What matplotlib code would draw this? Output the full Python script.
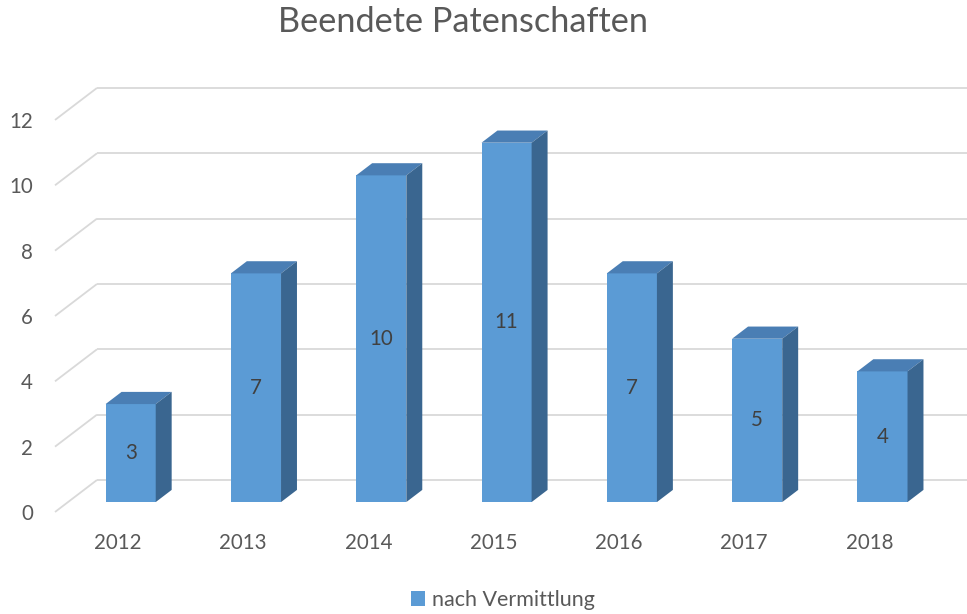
import numpy as np
import matplotlib
matplotlib.use('Agg')
import matplotlib.pyplot as plt
from matplotlib.patches import Polygon

# ---------------- DATA ----------------
years = ['2012', '2013', '2014', '2015', '2016', '2017', '2018']
values = [3, 7, 10, 11, 7, 5, 4]
y_ticks = [0, 2, 4, 6, 8, 10, 12]
series_name = 'nach Vermittlung'

# ---------------- STYLE ----------------
plt.rcParams['font.family'] = ['Lato', 'DejaVu Sans']
txt_col = '#595959'
grid_col = '#D9D9D9'
c_front = '#5B9BD5'
c_top = '#4A7EB4'
c_side = '#3A6690'

# pseudo-3D depth offsets (in data units for full depth)
ddx = 0.335
ddy = 0.98
d0, d1 = 0.31, 0.69
bw = 0.40

fig = plt.figure(figsize=(9.67, 6.14), dpi=100)
ax = fig.add_axes([55 / 967, 102 / 614, 912 / 967, 472 / 614])
ax.set_xlim(-0.5, -0.5 + 912 / 125.3)
ax.set_ylim(0, 472 / 32.67)

# gridlines: slanted floor/side segment + back wall line
for v in y_ticks:
    ax.plot([-0.5, -0.5 + ddx], [v, v + ddy], color=grid_col, lw=1.3,
            solid_capstyle='butt', clip_on=False)
    ax.plot([-0.5 + ddx, ax.get_xlim()[1]], [v + ddy, v + ddy], color=grid_col,
            lw=1.3, solid_capstyle='butt', clip_on=False)

x = np.arange(len(years))
fx = x + d0 * ddx - bw / 2
fy = d0 * ddy
ox = (d1 - d0) * ddx
oy = (d1 - d0) * ddy

bars = ax.bar(fx, values, width=bw, bottom=fy, align='edge', color=c_front,
              label=series_name, zorder=3)
for xi, v in zip(fx, values):
    top = fy + v
    ax.add_patch(Polygon([(xi, top), (xi + bw, top), (xi + bw + ox, top + oy), (xi + ox, top + oy)],
                         closed=True, facecolor=c_top, edgecolor='none', zorder=3))
    ax.add_patch(Polygon([(xi + bw, fy), (xi + bw + ox, fy + oy), (xi + bw + ox, top + oy), (xi + bw, top)],
                         closed=True, facecolor=c_side, edgecolor='none', zorder=3))
    ax.text(xi + bw / 2, fy + v / 2, str(v), ha='center', va='center',
            fontsize=14.8, color='#404040', zorder=4)

ax.set_yticks(y_ticks)
ax.set_yticklabels([str(t) for t in y_ticks])
ax.set_xticks(x)
ax.set_xticklabels(years)
ax.tick_params(axis='both', length=0, labelsize=14.8, labelcolor=txt_col)
ax.tick_params(axis='y', pad=16)
ax.tick_params(axis='x', pad=15)
for s in ax.spines.values():
    s.set_visible(False)

fig.text(463 / 967, 1 - 22 / 614, 'Beendete Patenschaften', ha='center', va='center',
         fontsize=24.7, color=txt_col)

leg = fig.legend(handles=[bars], labels=[series_name], loc='center',
                 bbox_to_anchor=(503 / 967, 1 - 600 / 614), frameon=False,
                 handlelength=0.65, handleheight=0.65, handletextpad=0.3,
                 fontsize=15.5, labelcolor=txt_col)

fig.savefig('out.png', dpi=100)
